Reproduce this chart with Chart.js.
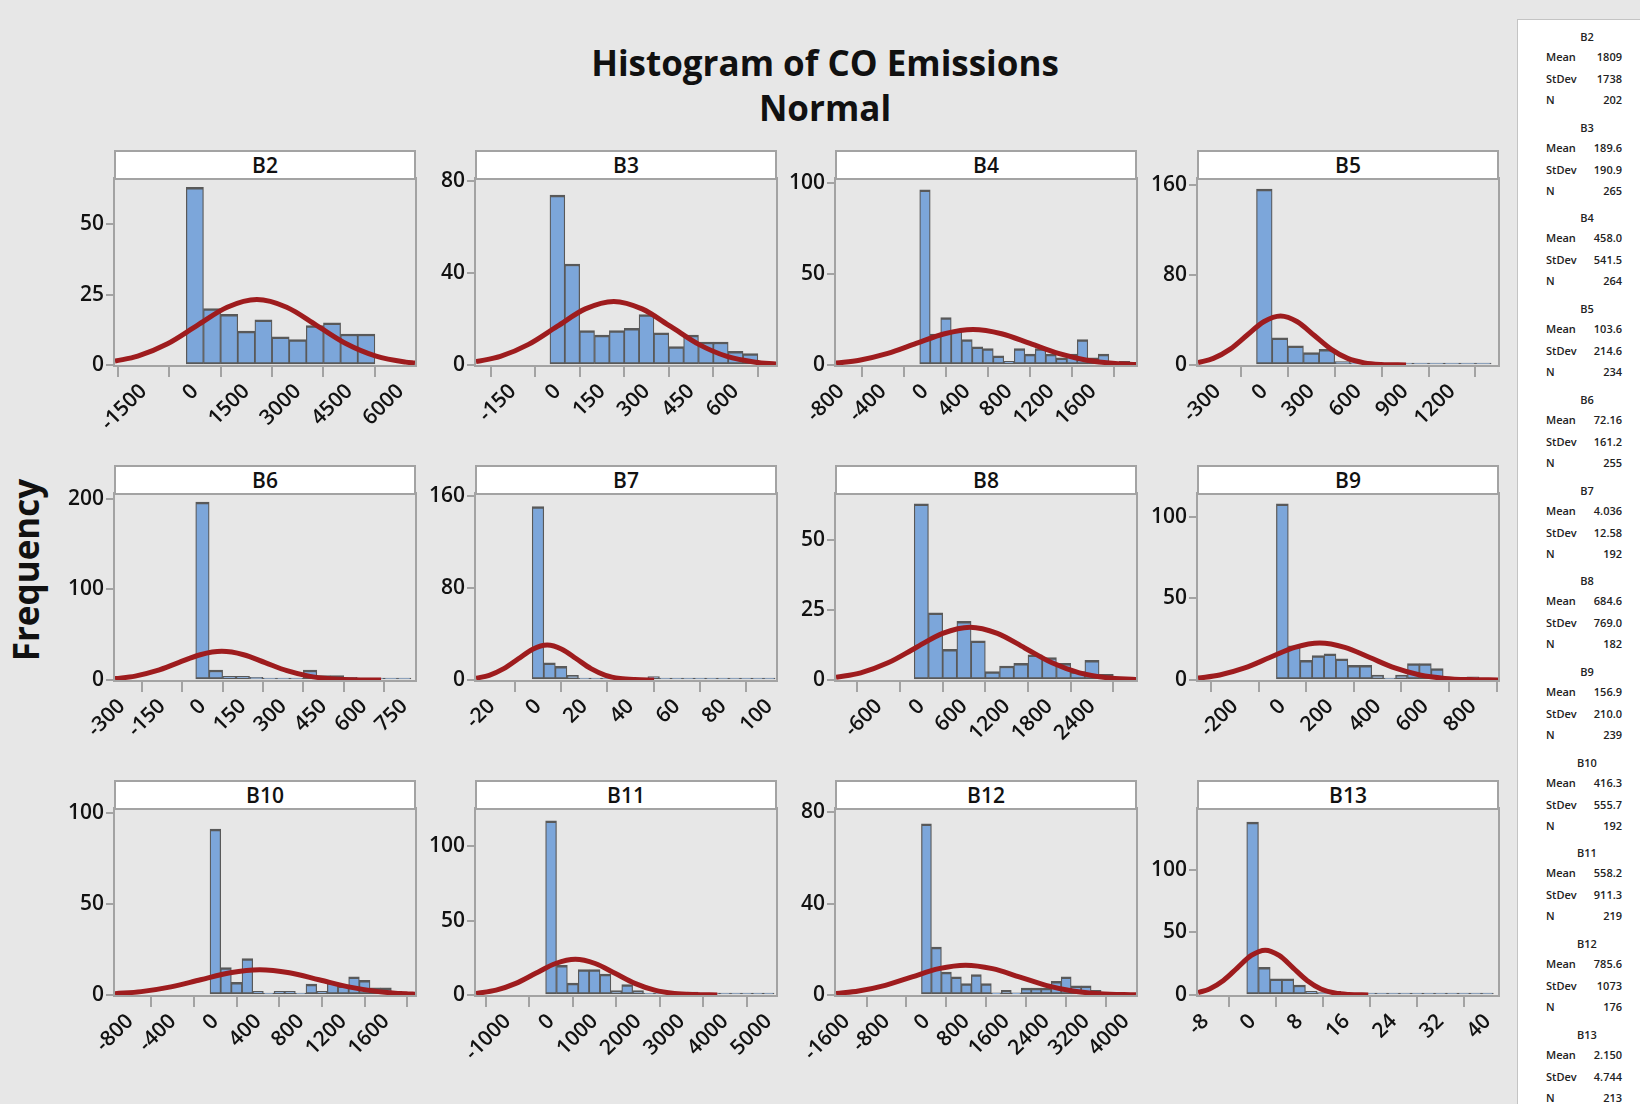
<!DOCTYPE html>
<html>
<head>
<meta charset="utf-8">
<script src="https://cdn.jsdelivr.net/npm/chart.js@4.4.0/dist/chart.umd.min.js"></script>
<style>
  body { margin: 0; background: #e7e7e7; font-family: 'Open Sans', sans-serif; }
  #page { position: relative; width: 1640px; height: 1104px; overflow: hidden; }
  .title { position: absolute; left: 425px; top: 40px; width: 800px; text-align: center;
           font-weight: 700; font-size: 35px; line-height: 45px; color: #111; }
  .freq { position: absolute; left: -124px; top: 548px; width: 300px; height: 44px; line-height: 44px;
          text-align: center; font-weight: 700; font-size: 35px; color: #111; transform: rotate(-90deg); }
  canvas { position: absolute; }
  .strip { position: absolute; box-sizing: border-box; width: 302px; height: 30px; border: 2px solid #a3a3a3;
           background: #fff; text-align: center; font-size: 21px; font-weight: 600; line-height: 26px; color: #111; }
  .legend { position: absolute; left: 1517px; top: 19px; width: 140px; height: 1100px; background: #fff;
            border: 1px solid #c4c4c4; }
  .leg { position: absolute; font-size: 11px; font-weight: 600; color: #222; line-height: 16px; white-space: nowrap; }
</style>
</head>
<body>
<div id="page">
  <div class="title">Histogram of CO Emissions<br>Normal</div>
  <div class="freq">Frequency</div>
  <div class="legend"></div>
</div>
<script>
// panel names and fitted-normal stats shown in the side table
const panelNames = ['B2', 'B3', 'B4', 'B5', 'B6', 'B7', 'B8', 'B9', 'B10', 'B11', 'B12', 'B13'];
const statMean = ['1809', '189.6', '458.0', '103.6', '72.16', '4.036', '684.6', '156.9', '416.3', '558.2', '785.6', '2.150'];
const statStDev = ['1738', '190.9', '541.5', '214.6', '161.2', '12.58', '769.0', '210.0', '555.7', '911.3', '1073', '4.744'];
const statN = [202, 265, 264, 234, 255, 192, 182, 239, 192, 219, 176, 213];

// B2
const b2Bins = [0, 500, 1000, 1500, 2000, 2500, 3000, 3500, 4000, 4500, 5000];
const b2Counts = [63, 20, 18, 12, 16, 10, 9, 14, 15, 11, 11];
const b2CurveX = [-2330, -1667, -798, 71, 940, 1809, 2678, 3547, 4416, 5285, 6154, 6420];
const b2CurveY = [1.37, 3.14, 7.53, 14.07, 20.47, 23.2, 20.47, 14.07, 7.53, 3.14, 1.02, 0.70];
const b2XTicks = [-1500, 0, 1500, 3000, 4500, 6000];
const b2YTicks = [0, 25, 50];

// B3
const b3Bins = [0, 50, 100, 150, 200, 250, 300, 350, 400, 450, 500, 550, 600, 650];
const b3Counts = [74, 44, 15, 13, 15, 16, 22, 14, 8, 13, 10, 10, 6, 5];
const b3CurveX = [-274, -192, -97, -1, 94, 190, 285, 381, 476, 571, 667, 736];
const b3CurveY = [1.45, 3.75, 8.99, 16.8, 24.44, 27.7, 24.44, 16.8, 8.99, 3.75, 1.22, 0.46];
const b3XTicks = [-150, 0, 150, 300, 450, 600];
const b3YTicks = [0, 40, 80];

// B4
const b4Bins = [0, 100, 200, 300, 400, 500, 600, 700, 800, 900, 1000, 1100, 1200, 1300, 1400, 1500, 1600, 1700, 1800, 1900];
const b4Counts = [96, 17, 26, 19, 14, 10, 9, 5, 2, 9, 6, 9, 6, 4, 6, 14, 4, 6, 1, 2];
const b4CurveX = [-847, -625, -354, -84, 187, 458, 729, 1000, 1270, 1541, 1812, 2009];
const b4CurveY = [1.07, 2.63, 6.32, 11.8, 17.16, 19.45, 17.16, 11.8, 6.32, 2.63, 0.85, 0.33];
const b4XTicks = [-800, -400, 0, 400, 800, 1200, 1600];
const b4YTicks = [0, 50, 100];

// B5
const b5Bins = [0, 100, 200, 300, 400, 500, 600, 700, 800, 900, 1000, 1100, 1200, 1300, 1400];
const b5Counts = [156, 24, 17, 11, 14, 3, 2, 1, 1, 1, 1, 1, 0, 1, 1];
const b5CurveX = [-424, -326, -218, -111, -4, 104, 211, 318, 426, 533, 640, 747, 906];
const b5CurveY = [2.11, 5.89, 14.12, 26.38, 38.39, 43.5, 38.39, 26.38, 14.12, 5.89, 1.91, 0.48, 0.04];
const b5XTicks = [-300, 0, 300, 600, 900, 1200];
const b5YTicks = [0, 80, 160];

// B6
const b6Bins = [0, 50, 100, 150, 200, 250, 300, 350, 400, 450, 500, 550, 600, 650, 700, 750];
const b6Counts = [196, 11, 4, 4, 3, 2, 1, 2, 11, 5, 5, 3, 2, 2, 1, 1];
const b6CurveX = [-325, -250, -170, -89, -8, 72, 153, 233, 314, 395, 475, 556, 664];
const b6CurveY = [1.53, 4.27, 10.24, 19.14, 27.84, 31.55, 27.84, 19.14, 10.24, 4.27, 1.39, 0.35, 0.04];
const b6XTicks = [-300, -150, 0, 150, 300, 450, 600, 750];
const b6YTicks = [0, 100, 200];

// B7
const b7Bins = [0, 5, 10, 15, 20, 25, 30, 35, 40, 45, 50, 55, 60, 65, 70, 75, 80, 85, 90, 95, 100];
const b7Counts = [151, 15, 12, 4, 1, 1, 1, 0, 1, 1, 3, 0, 0, 0, 0, 0, 0, 0, 0, 0, 1];
const b7CurveX = [-26.8, -21.1, -14.8, -8.5, -2.3, 4.0, 10.3, 16.6, 22.9, 29.2, 35.5, 41.8, 50.2];
const b7CurveY = [1.52, 4.12, 9.89, 18.47, 26.87, 30.45, 26.87, 18.47, 9.89, 4.12, 1.34, 0.34, 0.04];
const b7XTicks = [-20, 0, 20, 40, 60, 80, 100];
const b7YTicks = [0, 80, 160];

// B8
const b8Bins = [0, 200, 400, 600, 800, 1000, 1200, 1400, 1600, 1800, 2000, 2200, 2400, 2600];
const b8Counts = [63, 24, 11, 21, 14, 3, 5, 6, 9, 8, 6, 3, 7, 2];
const b8CurveX = [-1200, -853, -469, -84, 300, 685, 1069, 1454, 1838, 2223, 2607, 3019];
const b8CurveY = [0.94, 2.56, 6.14, 11.46, 16.68, 18.9, 16.68, 11.46, 6.14, 2.56, 0.83, 0.19];
const b8XTicks = [-600, 0, 600, 1200, 1800, 2400];
const b8YTicks = [0, 25, 50];

// B9
const b9Bins = [0, 50, 100, 150, 200, 250, 300, 350, 400, 450, 500, 550, 600, 650, 700, 750, 800];
const b9Counts = [108, 21, 12, 15, 16, 13, 9, 9, 3, 1, 3, 10, 10, 7, 1, 0, 2];
const b9CurveX = [-354, -263, -158, -53, 52, 157, 262, 367, 472, 577, 682, 787, 905];
const b9CurveY = [1.18, 3.07, 7.37, 13.77, 20.03, 22.7, 20.03, 13.77, 7.37, 3.07, 1.0, 0.25, 0.04];
const b9XTicks = [-200, 0, 200, 400, 600, 800];
const b9YTicks = [0, 50, 100];

// B10
const b10Bins = [0, 100, 200, 300, 400, 500, 600, 700, 800, 900, 1000, 1100, 1200, 1300, 1400, 1500, 1600, 1700];
const b10Counts = [91, 15, 7, 20, 2, 1, 2, 2, 1, 6, 2, 7, 5, 10, 8, 4, 4, 2];
const b10CurveX = [-941, -695, -417, -139, 138, 416, 694, 972, 1250, 1528, 1806, 1872];
const b10CurveY = [0.70, 1.86, 4.47, 8.36, 12.16, 13.78, 12.16, 8.36, 4.47, 1.86, 0.60, 0.45];
const b10XTicks = [-800, -400, 0, 400, 800, 1200, 1600];
const b10YTicks = [0, 50, 100];

// B11
const b11Bins = [0, 250, 500, 750, 1000, 1250, 1500, 1750, 2000, 2250, 2500, 2750, 3000, 3250, 3500, 3750, 4000, 4250, 4500, 4750, 5000];
const b11Counts = [117, 20, 8, 17, 17, 14, 3, 7, 3, 1, 1, 2, 1, 2, 1, 1, 0, 1, 1, 1, 1];
const b11CurveX = [-1725, -1264, -809, -353, 103, 558, 1014, 1470, 1925, 2381, 2836, 3292, 3821];
const b11CurveY = [1.04, 3.25, 7.79, 14.56, 21.18, 24.0, 21.18, 14.56, 7.79, 3.25, 1.05, 0.27, 0.04];
const b11XTicks = [-1000, 0, 1000, 2000, 3000, 4000, 5000];
const b11YTicks = [0, 50, 100];

// B12
const b12Bins = [0, 200, 400, 600, 800, 1000, 1200, 1400, 1600, 1800, 2000, 2200, 2400, 2600, 2800, 3000, 3200, 3400];
const b12Counts = [75, 21, 10, 8, 5, 9, 5, 1, 2, 1, 3, 3, 3, 6, 8, 4, 4, 2];
const b12CurveX = [-1811, -1360, -824, -287, 249, 786, 1322, 1859, 2395, 2932, 3468, 4198];
const b12CurveY = [0.70, 1.77, 4.25, 7.94, 11.55, 13.09, 11.55, 7.94, 4.25, 1.77, 0.57, 0.08];
const b12XTicks = [-1600, -800, 0, 800, 1600, 2400, 3200, 4000];
const b12YTicks = [0, 40, 80];

// B13
const b13Bins = [0, 2, 4, 6, 8, 10, 12, 14, 16, 18, 20, 22, 24, 26, 28, 30, 32, 34, 36, 38, 40];
const b13Counts = [138, 22, 13, 13, 8, 3, 2, 3, 1, 1, 1, 1, 1, 0, 1, 1, 1, 1, 0, 1, 1];
const b13CurveX = [-9.28, -7.34, -4.97, -2.59, -0.22, 2.15, 4.52, 6.89, 9.27, 11.64, 14.01, 16.38, 19.7];
const b13CurveY = [1.96, 4.85, 11.63, 21.72, 31.61, 35.82, 31.61, 21.72, 11.63, 4.85, 1.57, 0.40, 0.04];
const b13XTicks = [-8, 0, 8, 16, 24, 32, 40];
const b13YTicks = [0, 50, 100];

const panels = [
  { bins: b2Bins, counts: b2Counts, cx: b2CurveX, cy: b2CurveY, xt: b2XTicks, yt: b2YTicks, xMin: -2330, xMax: 6420, yMax: 66 },
  { bins: b3Bins, counts: b3Counts, cx: b3CurveX, cy: b3CurveY, xt: b3XTicks, yt: b3YTicks, xMin: -274, xMax: 736, yMax: 81 },
  { bins: b4Bins, counts: b4Counts, cx: b4CurveX, cy: b4CurveY, xt: b4XTicks, yt: b4YTicks, xMin: -847, xMax: 2009, yMax: 102 },
  { bins: b5Bins, counts: b5Counts, cx: b5CurveX, cy: b5CurveY, xt: b5XTicks, yt: b5YTicks, xMin: -424, xMax: 1494, yMax: 165 },
  { bins: b6Bins, counts: b6Counts, cx: b6CurveX, cy: b6CurveY, xt: b6XTicks, yt: b6YTicks, xMin: -325, xMax: 790, yMax: 205 },
  { bins: b7Bins, counts: b7Counts, cx: b7CurveX, cy: b7CurveY, xt: b7XTicks, yt: b7YTicks, xMin: -26.8, xMax: 102.9, yMax: 162 },
  { bins: b8Bins, counts: b8Counts, cx: b8CurveX, cy: b8CurveY, xt: b8XTicks, yt: b8YTicks, xMin: -1200, xMax: 3019, yMax: 66.5 },
  { bins: b9Bins, counts: b9Counts, cx: b9CurveX, cy: b9CurveY, xt: b9XTicks, yt: b9YTicks, xMin: -354, xMax: 905, yMax: 114 },
  { bins: b10Bins, counts: b10Counts, cx: b10CurveX, cy: b10CurveY, xt: b10XTicks, yt: b10YTicks, xMin: -941, xMax: 1872, yMax: 102 },
  { bins: b11Bins, counts: b11Counts, cx: b11CurveX, cy: b11CurveY, xt: b11XTicks, yt: b11YTicks, xMin: -1725, xMax: 5170, yMax: 125 },
  { bins: b12Bins, counts: b12Counts, cx: b12CurveX, cy: b12CurveY, xt: b12XTicks, yt: b12YTicks, xMin: -1812, xMax: 4199, yMax: 81.5 },
  { bins: b13Bins, counts: b13Counts, cx: b13CurveX, cy: b13CurveY, xt: b13XTicks, yt: b13YTicks, xMin: -9.3, xMax: 41.8, yMax: 148.5 }
];

const colLeft = [115, 476, 836, 1198];
const rowTop = [150, 465, 780];
const frameColor = '#a3a3a3';
const barFill = 'rgb(124,166,218)';
const barEdge = '#595959';
const curveColor = 'rgb(158,28,30)';

Chart.defaults.font.family = "'Open Sans', sans-serif";
Chart.defaults.font.size = 21;
Chart.defaults.font.weight = '600';
Chart.defaults.color = '#111';

// gray box around each plot area
const framePlugin = {
  id: 'frame',
  beforeDatasetsDraw: function (chart) {
    const a = chart.chartArea;
    const ctx = chart.ctx;
    ctx.save();
    ctx.strokeStyle = frameColor;
    ctx.lineWidth = 2;
    ctx.strokeRect(a.left - 1, a.top - 1, a.right - a.left + 2, a.bottom - a.top + 2);
    ctx.restore();
  }
};

const page = document.getElementById('page');

panels.forEach(function (p, i) {
  const col = i % 4;
  const row = Math.floor(i / 4);
  const plotLeft = colLeft[col];
  const top = rowTop[row];

  const canvas = document.createElement('canvas');
  canvas.width = 394;
  canvas.height = 292;
  canvas.style.left = (plotLeft - 70) + 'px';
  canvas.style.top = (top - 2) + 'px';
  page.appendChild(canvas);

  const strip = document.createElement('div');
  strip.className = 'strip';
  strip.style.left = (plotLeft - 1) + 'px';
  strip.style.top = top + 'px';
  strip.textContent = panelNames[i];
  page.appendChild(strip);

  new Chart(canvas.getContext('2d'), {
    type: 'bar',
    data: {
      datasets: [{
        type: 'line',
        data: p.cx.map(function (x, k) { return { x: x, y: p.cy[k] }; }),
        borderColor: curveColor,
        borderWidth: 5,
        pointRadius: 0,
        cubicInterpolationMode: 'monotone',
        fill: false,
        order: 0
      }, {
        type: 'bar',
        data: p.bins.map(function (x, k) { return { x: x, y: p.counts[k] }; }),
        backgroundColor: barFill,
        borderColor: barEdge,
        borderWidth: { top: 2.5, left: 1.25, right: 1.25, bottom: 2 },
        borderSkipped: false,
        barPercentage: 1,
        categoryPercentage: 1,
        minBarLength: 2,
        order: 1
      }]
    },
    options: {
      responsive: false,
      animation: false,
      devicePixelRatio: 1,
      layout: { padding: { top: 31, left: 0, right: 24, bottom: 0 } },
      plugins: { legend: { display: false }, tooltip: { enabled: false } },
      scales: {
        x: {
          type: 'linear',
          min: p.xMin,
          max: p.xMax,
          offset: false,
          afterBuildTicks: function (ax) { ax.ticks = p.xt.map(function (v) { return { value: v }; }); },
          afterFit: function (ax) { ax.height = 75; },
          grid: { drawOnChartArea: false, drawTicks: true, tickLength: 12, color: frameColor, lineWidth: 2 },
          border: { display: false },
          ticks: { autoSkip: false, maxRotation: 45, minRotation: 45, padding: 2,
                   callback: function (v) { return String(v); } }
        },
        y: {
          min: 0,
          max: p.yMax,
          afterBuildTicks: function (ax) { ax.ticks = p.yt.map(function (v) { return { value: v }; }); },
          afterFit: function (ax) { ax.width = 70; },
          grid: { drawOnChartArea: false, drawTicks: true, tickLength: 9, color: frameColor, lineWidth: 2 },
          border: { display: false },
          ticks: { padding: 2, callback: function (v) { return String(v); } }
        }
      }
    },
    plugins: [framePlugin]
  });
});

// side table with Mean / StDev / N for each panel
function addLeg(text, left, top, width, align) {
  const d = document.createElement('div');
  d.className = 'leg';
  d.style.left = left + 'px';
  d.style.top = top + 'px';
  d.style.width = width + 'px';
  d.style.textAlign = align;
  d.textContent = text;
  page.appendChild(d);
}

panelNames.forEach(function (name, i) {
  const y = 37 + i * 90.7;
  addLeg(name, 1547, y - 8, 80, 'center');
  addLeg('Mean', 1546, y + 20 - 8, 40, 'left');
  addLeg(statMean[i], 1562, y + 20 - 8, 60, 'right');
  addLeg('StDev', 1546, y + 42 - 8, 40, 'left');
  addLeg(statStDev[i], 1562, y + 42 - 8, 60, 'right');
  addLeg('N', 1546, y + 63 - 8, 40, 'left');
  addLeg(String(statN[i]), 1562, y + 63 - 8, 60, 'right');
});
</script>
</body>
</html>
